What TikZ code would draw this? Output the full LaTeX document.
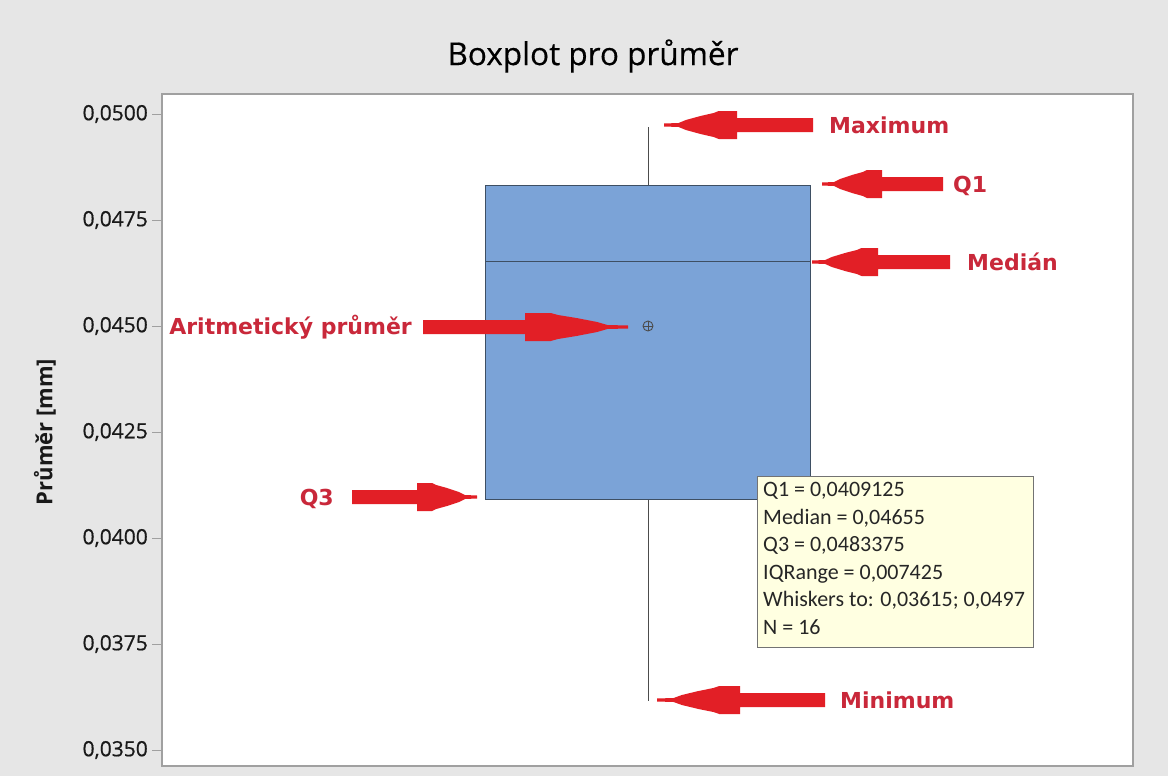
\documentclass[tikz,border=0pt]{standalone}
\usepackage{fontspec}
\setmainfont{Open Sans}
\newfontfamily\calfont{Carlito}
\newfontfamily\labfont{DejaVu Sans}
\newfontfamily\semifont[FakeBold=0.6]{Open Sans}
\newfontfamily\titlefont[FakeBold=0.4]{Open Sans}
\definecolor{bgcol}{HTML}{E6E6E6}
\definecolor{framecol}{HTML}{A0A0A0}
\definecolor{boxfill}{HTML}{7BA3D7}
\definecolor{boxline}{HTML}{3E4F63}
\definecolor{arrowred}{HTML}{E21F26}
\definecolor{labred}{HTML}{C9283A}
\definecolor{tipfill}{HTML}{FFFFE1}
\begin{document}
\begin{tikzpicture}[x=1pt,y=-1pt,
  ticklab/.style={anchor=east,font=\semifont\fontsize{21}{26}\selectfont,text=black!90,inner sep=0pt},
  redlab/.style={font=\labfont\bfseries\fontsize{22}{26}\selectfont,text=labred,inner sep=0pt},
  pics/redarrow/.style 2 args={code={
    \fill[arrowred] (0,-1.5) -- ({0.2*#1},-2) -- ({0.3*#1},-5) -- ({0.5*#1},-9) -- ({0.68*#1},-12) -- ({0.75*#1},-14)
      -- (#1,-14) -- (#1,-7) -- (#2,-7) -- (#2,7) -- (#1,7) -- (#1,14) -- ({0.75*#1},14) -- ({0.68*#1},12)
      -- ({0.5*#1},9) -- ({0.3*#1},5) -- ({0.2*#1},2) -- (0,1.5) -- cycle;
  }}
]
\useasboundingbox (0,0) rectangle (1168,776);
\fill[bgcol] (0,0) rectangle (1168,776);
% plot frame
\draw[framecol,fill=white,line width=1.2] (162,94) rectangle (1133,766);
% title
\node[font=\titlefont\fontsize{31.5}{36}\selectfont,text=black] (title) at (593,56) {Boxplot pro průměr};
% y label
\node[rotate=90,font=\fontsize{22}{26}\selectfont\bfseries,text=black!90] (ylab) at (45,432) {Průměr [mm]};
% ticks
\foreach \v/\yy in {0500/114,0475/220,0450/326,0425/432,0400/538,0375/644,0350/750}{
  \draw[framecol] (152,\yy) -- (162,\yy);
  \node[ticklab] at (148,\yy) {0,\v};
}
% whiskers
\coordinate (wtop) at (648,127);
\coordinate (wbot) at (648,701);
\draw[black!70,line width=1] (wtop) -- (648,185);
\draw[black!70,line width=1] (648,499) -- (wbot);
% box
\draw[boxline,fill=boxfill,line width=1] (485,185) rectangle (810,499);
\draw[boxline,line width=1] (485,261) -- (810,261);
% mean symbol
\node[circle,draw=black!70,inner sep=0pt,minimum size=10pt,line width=0.9] (mean) at (648,326) {};
\draw[black!70,line width=0.9] (mean.north) -- (mean.south) (mean.west) -- (mean.east);
% tooltip
\node[anchor=north west,draw=black!55,fill=tipfill,line width=1,minimum width=276pt,minimum height=171pt,inner sep=0pt] (tip) at (757,476) {};
\node[anchor=north west,align=left,inner sep=0pt,font=\calfont\fontsize{22}{27.6}\selectfont,text=black!85] (tiptext) at (763,482)
{Q1 = 0,0409125\\Median = 0,04655\\Q3 = 0,0483375\\IQRange = 0,007425\\Whiskers to: 0,03615; 0,0497\\N = 16};
% annotations
\coordinate (maxtip) at (664,125);
\pic at (maxtip) {redarrow={73}{149}};
\node[redlab,anchor=west] (maxlab) at (829,125) {Maximum};
\coordinate (q1tip) at (822,184);
\pic at (q1tip) {redarrow={60}{121}};
\node[redlab,anchor=west] (q1lab) at (953,186) {Q1};
\coordinate (medtip) at (812,262);
\pic at (medtip) {redarrow={66}{138}};
\node[redlab,anchor=west] (medlab) at (967,262) {Medián};
\coordinate (meantip) at (628,327);
\pic[xscale=-1] at (meantip) {redarrow={103}{205}};
\node[redlab,anchor=east] (meanlab) at (412,327) {Aritmetický průměr};
\coordinate (q3tip) at (477,497);
\pic[xscale=-1] at (q3tip) {redarrow={60}{125}};
\node[redlab,anchor=east] (q3lab) at (334,499) {Q3};
\coordinate (mintip) at (657,700);
\pic at (mintip) {redarrow={83}{168}};
\node[redlab,anchor=west] (minlab) at (840,700) {Minimum};
\end{tikzpicture}
\end{document}
